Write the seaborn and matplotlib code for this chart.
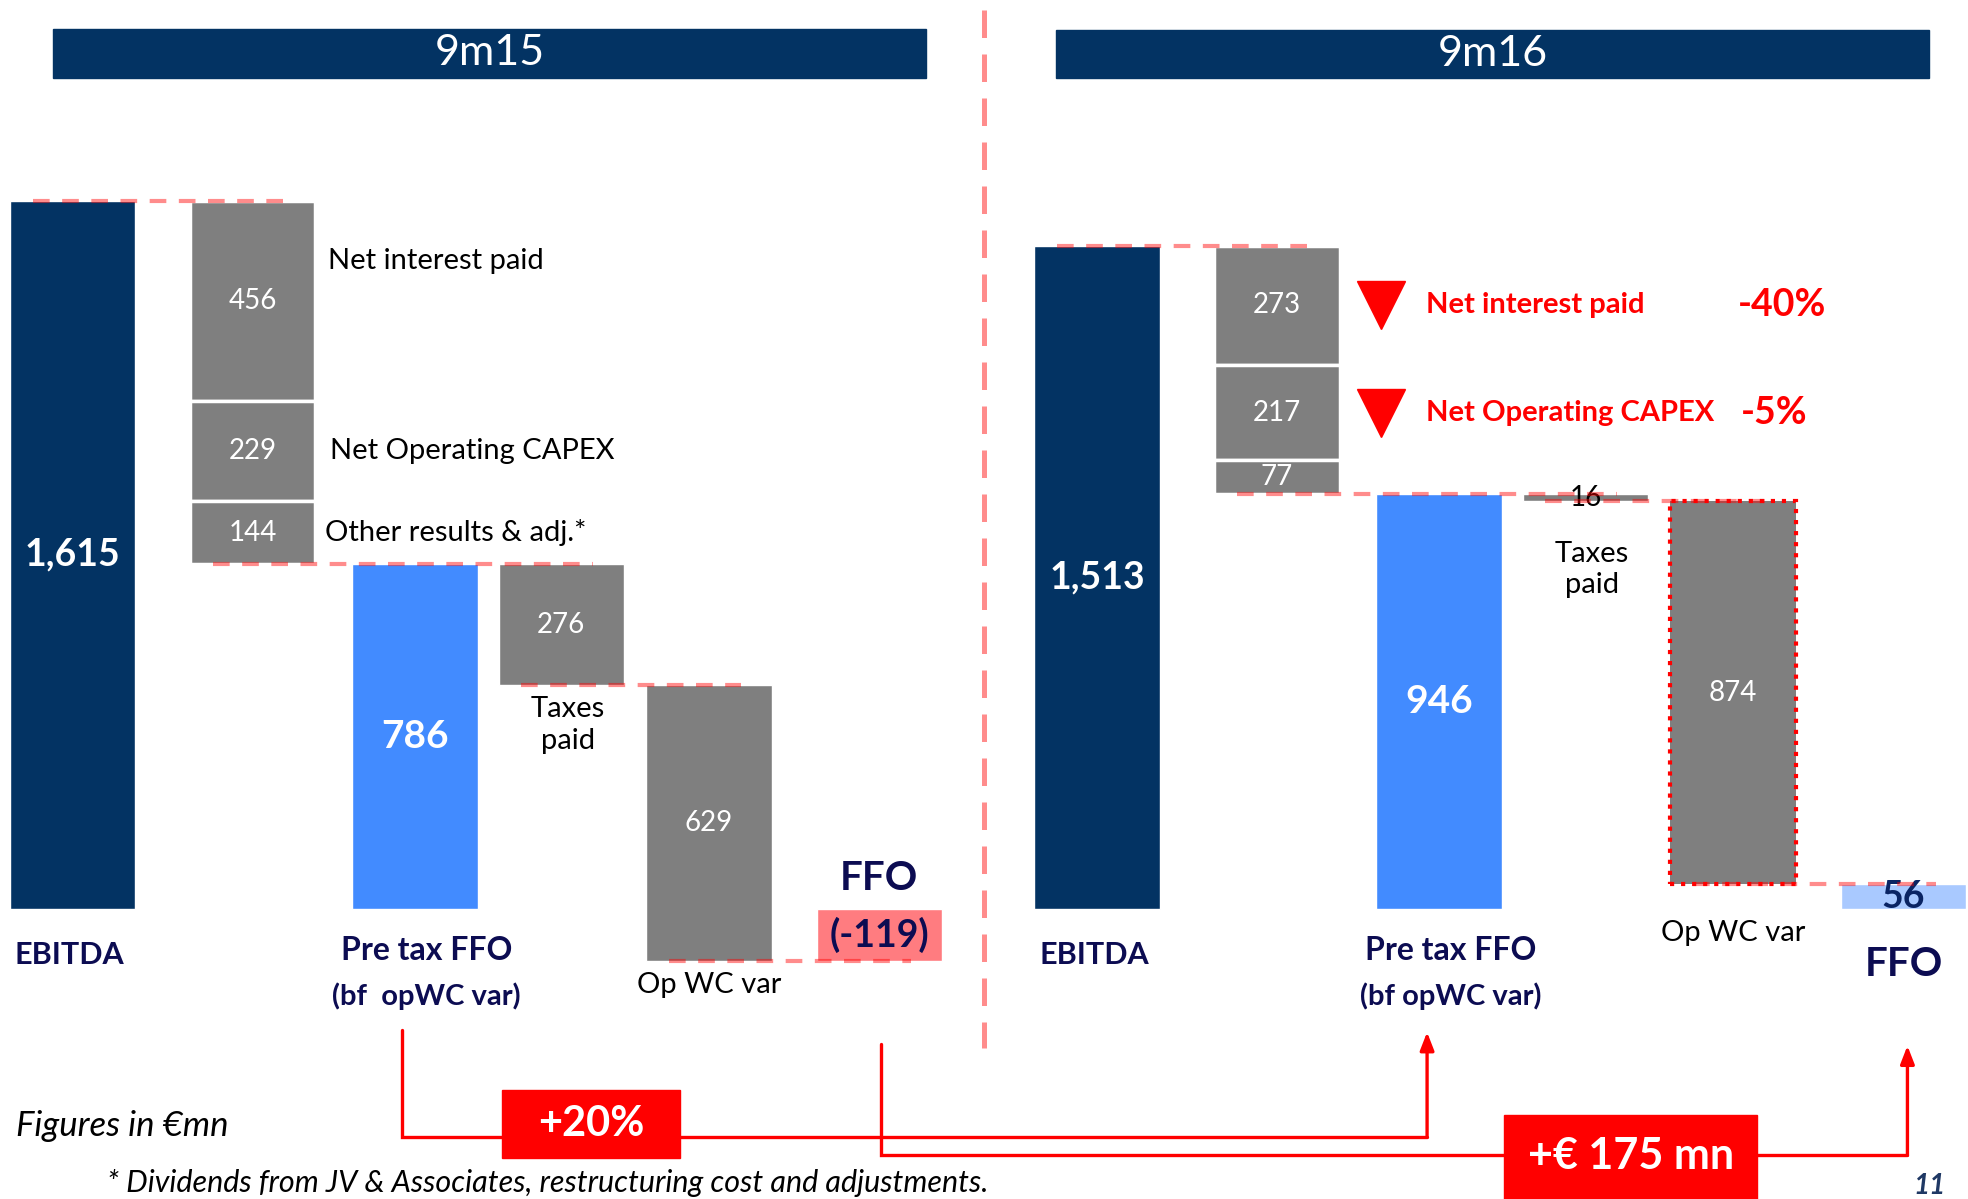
import numpy as np
import pandas as pd
import matplotlib
matplotlib.use("Agg")
import matplotlib.pyplot as plt
import seaborn as sns
from matplotlib.patches import Rectangle
from matplotlib.lines import Line2D

sns.set_theme(style="white")
plt.rcParams['font.family'] = ['Lato', 'DejaVu Sans']

# ---- data (EUR mn) ----
periods = ["9m15", "9m16"]
ebitda = [1615, 1513]
interest = [456, 273]
capex = [229, 217]
other = [144, 77]
taxes = [276, 16]
opwc = [629, 874]
step_labels = ["Net interest paid", "Net Operating CAPEX", "Other results & adj.*"]
interest_change = "-40%"
capex_change = "-5%"
growth_pct = "+20%"
growth_abs = "+\u20ac 175 mn"

pretax = [e - i - c - o for e, i, c, o in zip(ebitda, interest, capex, other)]
ffo = [p - t - w for p, t, w in zip(pretax, taxes, opwc)]

# ---- colours ----
NAVY = "#033363"
TXT_NAVY = "#0C0C52"
BLUE = "#428BFF"
GRAY = "#7F7F7F"
FFO_COL = ["#FF7C80", "#A9C9FF"]
PINK = dict(color="red", alpha=0.45)

fig = plt.figure(figsize=(19.68, 11.99), dpi=100)
ax = fig.add_axes([0, 0, 1, 1])
ax.set_xlim(-0.453, 11.797)
ax.set_ylim(-661.5, 2073.2)
ax.axis("off")

W = 0.78
offsets = [0.0, 6.375]
slot_pos = np.array([0, 1.12, 2.13, 3.04, 3.96, 5.02])

for p, off in enumerate(offsets):
    x = off + slot_pos
    pre, f = pretax[p], ffo[p]

    # EBITDA
    ax.bar(x[0], ebitda[p], width=W, color=NAVY)
    ax.text(x[0], ebitda[p] / 2, f"{ebitda[p]:,}", color="white", fontsize=27,
            fontweight="bold", ha="center", va="center")

    # stacked deductions
    segs = [interest[p], capex[p], other[p]]
    top = ebitda[p]
    seg_mid = []
    for h in segs:
        ax.bar(x[1], h, bottom=top - h, width=W, color=GRAY, edgecolor="white", linewidth=2.5)
        ax.text(x[1], top - h / 2, str(h), color="white", fontsize=20, ha="center", va="center")
        seg_mid.append(top - h / 2)
        top -= h

    # pre tax FFO
    ax.bar(x[2], pre, width=W, color=BLUE)
    ax.text(x[2], pre / 2, str(pre), color="white", fontsize=28, fontweight="bold",
            ha="center", va="center")

    # taxes
    ax.bar(x[3], taxes[p], bottom=pre - taxes[p], width=W, color=GRAY)
    ax.text(x[3], pre - taxes[p] / 2, str(taxes[p]), color="white" if p == 0 else "black",
            fontsize=20, ha="center", va="center")
    ax.text(x[3] + 0.04, pre - taxes[p] - (25 if p == 0 else 90), "Taxes\npaid",
            fontsize=21, ha="center", va="top", color="black", linespacing=1.25)

    # op WC var
    if p == 1:
        ax.bar(x[4], opwc[p], bottom=f, width=W, color=GRAY, edgecolor="red",
               linestyle=":", linewidth=3)
    else:
        ax.bar(x[4], opwc[p], bottom=f, width=W, color=GRAY)
    ax.text(x[4], f + opwc[p] / 2, str(opwc[p]), color="white", fontsize=20,
            ha="center", va="center")
    ax.text(x[4], min(f, 0) - 25, "Op WC var", fontsize=21, ha="center", va="top", color="black")

    # FFO
    ax.bar(x[5], f, width=W, color=FFO_COL[p])
    ffo_txt = f"({f})" if f < 0 else str(f)
    ax.text(x[5], f / 2, ffo_txt, color=TXT_NAVY if p == 0 else "#0A2463", fontsize=27,
            fontweight="bold", ha="center", va="center")
    if f < 0:
        ax.text(x[5], 70, "FFO", color=TXT_NAVY, fontsize=29, fontweight="bold",
                ha="center", va="center")
    else:
        ax.text(x[5], -126, "FFO", color=TXT_NAVY, fontsize=29, fontweight="bold",
                ha="center", va="center")

    # connectors
    levels = [(ebitda[p], 0, 1), (pre, 1, 3), (pre - taxes[p], 3, 4), (f, 4, 5)]
    for lvl, a, b in levels:
        ax.plot([x[a] - 0.25, x[b] + 0.2], [lvl, lvl], lw=3, dashes=(4, 3), **PINK, zorder=5)

    # category labels
    ax.text(x[0] - W / 2 + 0.03, -105, "EBITDA", color=TXT_NAVY, fontsize=22,
            fontweight="bold", ha="left", va="center")
    ax.text(x[2] + 0.07, -95, "Pre tax FFO", color=TXT_NAVY, fontsize=23,
            fontweight="bold", ha="center", va="center")
    ax.text(x[2] + 0.07, -200, "(bf  opWC var)" if p == 0 else "(bf opWC var)",
            color=TXT_NAVY, fontsize=21, fontweight="bold", ha="center", va="center")

    # step labels
    if p == 0:
        ax.text(x[1] + 0.47, ebitda[p] - interest[p] * 0.3, step_labels[0], fontsize=21,
                ha="left", va="center", color="black")
        ax.text(x[1] + 0.48, seg_mid[1], step_labels[1], fontsize=21, ha="left",
                va="center", color="black")
        ax.text(x[1] + 0.45, seg_mid[2], step_labels[2], fontsize=21, ha="left",
                va="center", color="black")
    else:
        for mid, lab, chg, cx in zip(seg_mid[:2], step_labels[:2],
                                     [interest_change, capex_change], [10.64, 10.59]):
            ax.plot(x[1] + 0.65, mid, marker="v", ms=34, color="red", mec="red")
            ax.text(x[1] + 0.93, mid, lab, fontsize=21, fontweight="bold", color="red",
                    ha="left", va="center")
            ax.text(cx, mid, chg, fontsize=27, fontweight="bold", color="red",
                    ha="center", va="center")

# ---- headers & divider ----
for (x0, x1, y0, y1), lab in zip([(42, 738, 23, 62), (841, 1537, 24, 62)], periods):
    fig.add_artist(Rectangle((x0 / 1568, 1 - y1 / 955), (x1 - x0) / 1568, (y1 - y0) / 955,
                             transform=fig.transFigure, color=NAVY))
    fig.text((x0 + x1) / 2 / 1568, 1 - (y0 + y1) / 2 / 955, lab, color="white",
             fontsize=31, ha="center", va="center")

fig.add_artist(Line2D([0.5, 0.5], [1 - 8 / 955, 1 - 835 / 955], transform=fig.transFigure,
                      lw=3.6, dashes=(5.5, 3.3), **PINK))

# ---- growth arrows ----
arrows = [([2.05, 2.05, 8.43], [-275, -519, -519], -281),
          ([5.03, 5.03, 11.42], [-309, -562, -562], -312)]
for xs, ys, yend in arrows:
    ax.plot(xs, ys, color="red", lw=2.4, solid_joinstyle="miter", zorder=3)
    ax.annotate("", xy=(xs[-1], yend), xytext=(xs[-1], ys[-1]),
                arrowprops=dict(arrowstyle="-|>,head_length=0.9,head_width=0.35",
                                color="red", lw=2.4, shrinkA=0, shrinkB=0), zorder=3)

ax.add_patch(Rectangle((2.672, -567), 1.109, 155, color="red", zorder=4))
ax.text(3.23, -490, growth_pct, color="white", fontsize=30, fontweight="bold",
        ha="center", va="center", zorder=5)
ax.add_patch(Rectangle((8.906, -661.5), 1.578, 191.5, color="red", zorder=4))
ax.text(9.70, -564, growth_abs, color="white", fontsize=31, fontweight="bold",
        ha="center", va="center", zorder=5)

# ---- footnotes ----
fig.text(13 / 1568, 1 - 897 / 955, "Figures in \u20acmn", fontsize=25, style="italic",
         ha="left", va="center", color="black")
fig.text(85 / 1568, 1 - 942 / 955,
         "* Dividends from JV & Associates, restructuring cost and adjustments.",
         fontsize=22, style="italic", ha="left", va="center", color="black")
fig.text(1537 / 1568, 1 - 945 / 955, "11", fontsize=20, style="italic", fontweight="bold",
         ha="center", va="center", color="#1F3864")

fig.savefig("out.png", dpi=100)
